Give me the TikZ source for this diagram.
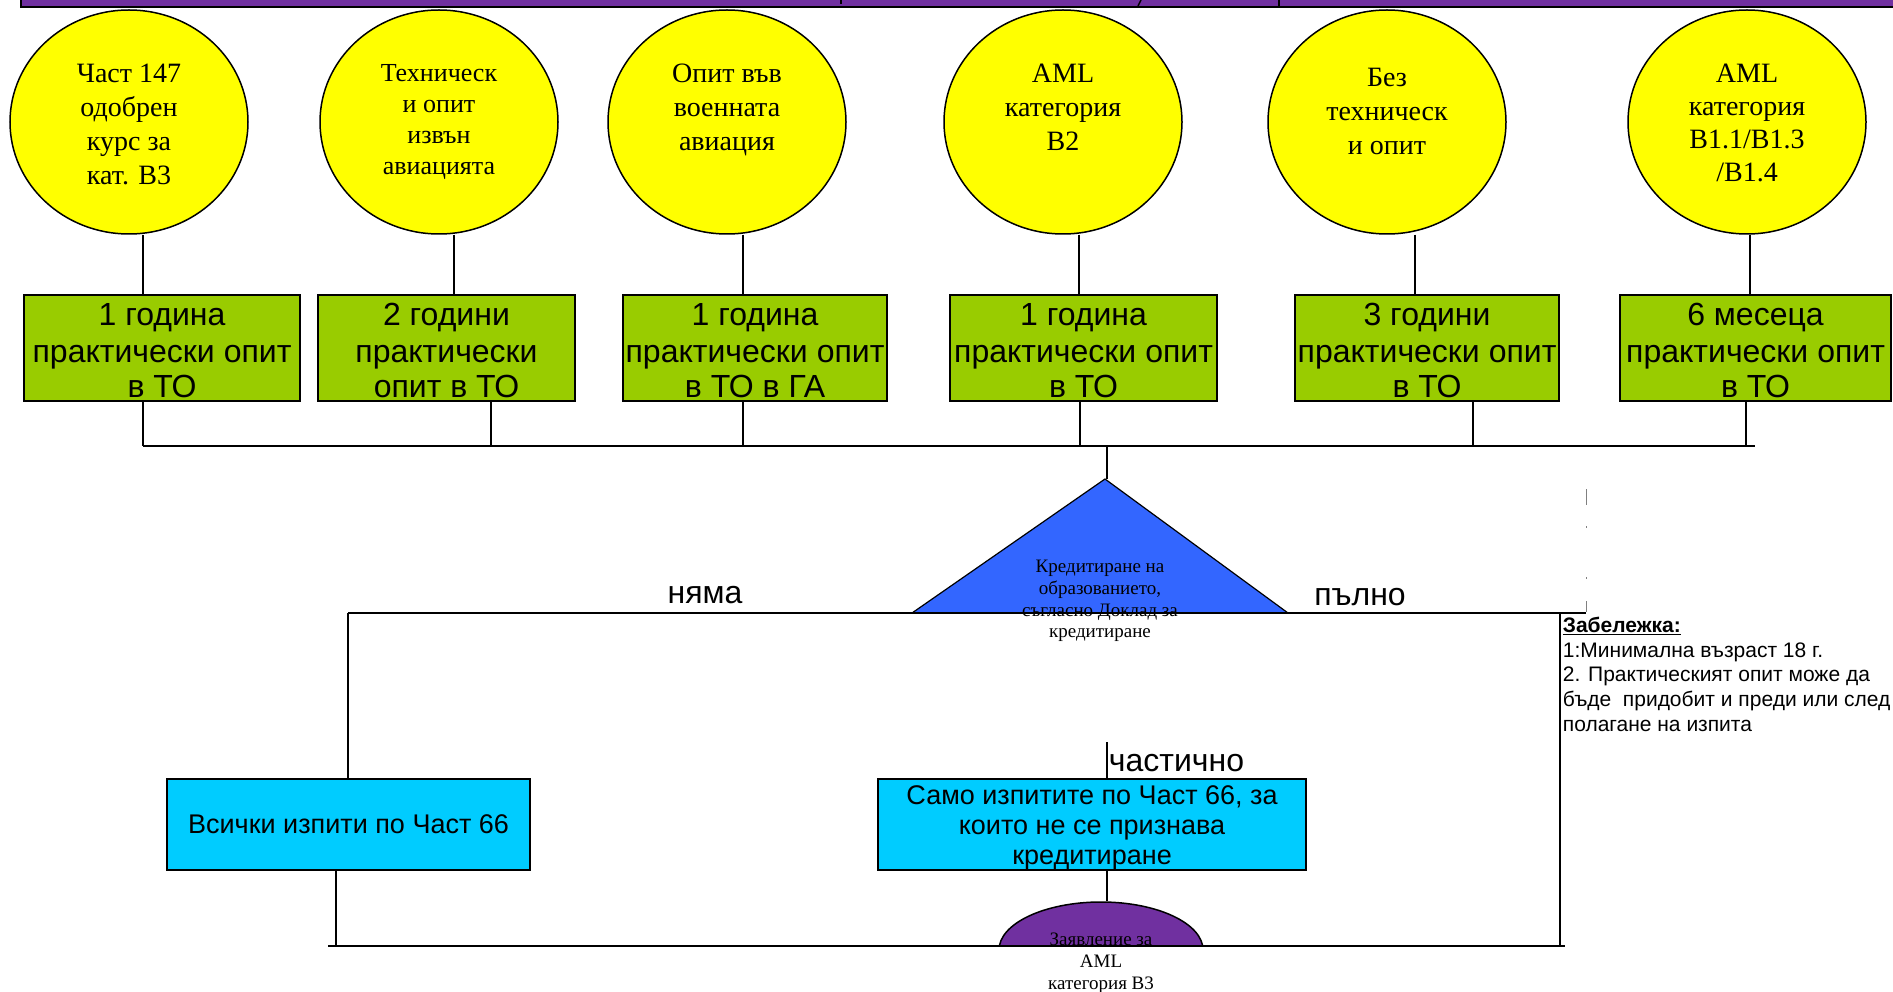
\documentclass[tikz,border=0pt]{standalone}
\usepackage{fontspec}
\setmainfont{Liberation Serif}
\setsansfont{Liberation Sans}
\usepackage{tikz}
\usetikzlibrary{shapes.geometric,positioning}
\definecolor{barpurple}{HTML}{7030A0}
\definecolor{bubbleyellow}{HTML}{FFFF00}
\definecolor{termgreen}{HTML}{99CC00}
\definecolor{examcyan}{HTML}{00CCFF}
\definecolor{credblue}{HTML}{3366FF}
\newcommand{\bubbletxt}[3]{\parbox[c][116pt][t]{160pt}{\centering\fontsize{#1}{#2}\selectfont #3}}
\newcommand{\boxtxt}[2]{\raisebox{#1}[0pt][0pt]{\begin{tabular}[t]{@{}c@{}}#2\end{tabular}}}

\begin{document}
\begin{tikzpicture}[x=1pt,y=-1pt,line width=1.8pt,
  bubble/.style={ellipse,draw,fill=bubbleyellow,line width=1.5pt,inner sep=0pt,minimum width=238pt,minimum height=224pt},
  term/.style={rectangle,draw,fill=termgreen,line width=2pt,inner sep=0pt,minimum height=106pt,font=\sffamily\fontsize{32}{36}\selectfont},
  exam/.style={rectangle,draw,fill=examcyan,line width=2pt,inner sep=0pt,minimum height=91pt,font=\sffamily\fontsize{27}{30}\selectfont},
  lbl/.style={inner sep=1pt,font=\sffamily\fontsize{32}{36}\selectfont},
  small/.style={inner sep=0pt,align=center,font=\fontsize{19}{21.7}\selectfont}]
\useasboundingbox (0,0) rectangle (1893,992);
% title bar
\fill[barpurple,draw=black,line width=2pt] (21,-30) rectangle (1920,7);
\draw[line width=2pt] (841,0) -- (841,4) (1279,0) -- (1279,6);
\draw[line width=1.5pt] (1138,6) -- (1141,0);
% starting points
\node[bubble] (c1) at (129,122) {\bubbletxt{28}{34}{Част 147\\одобрен\\курс за\\кат. B3}};
\node[bubble] (c2) at (439,122) {\bubbletxt{26}{31}{Техническ\\и опит\\извън\\авиацията}};
\node[bubble] (c3) at (727,122) {\bubbletxt{28}{34}{Опит във\\военната\\авиация}};
\node[bubble] (c4) at (1063,122) {\bubbletxt{28}{34}{AML\\категория\\B2}};
\node[bubble] (c5) at (1387,122) {\bubbletxt{28}{34}{\rule{0pt}{23pt}Без\\техническ\\и опит}};
\node[bubble] (c6) at (1747,122) {\bubbletxt{28}{33}{AML\\категория\\B1.1/B1.3\\/B1.4}};
% experience
\node[term,minimum width=276pt] (g1) at (162,348) {\boxtxt{22pt}{1 година\\практически опит\\в ТО}};
\node[term,minimum width=257pt] (g2) at (446.5,348) {\boxtxt{22pt}{2 години\\практически\\опит в ТО}};
\node[term,minimum width=264pt] (g3) at (755,348) {\boxtxt{22pt}{1 година\\практически опит\\в ТО в ГА}};
\node[term,minimum width=267pt] (g4) at (1083.5,348) {\boxtxt{22pt}{1 година\\практически опит\\в ТО}};
\node[term,minimum width=264pt] (g5) at (1427,348) {\boxtxt{22pt}{3 години\\практически опит\\в ТО}};
\node[term,minimum width=271pt] (g6) at (1755.5,348) {\boxtxt{22pt}{6 месеца\\практически опит\\в ТО}};
\coordinate (busL) at (143,446);
\coordinate (busR) at (1755,446);
\foreach \i/\u/\d in {1/14/-19,2/15/44.5,3/16/-12,4/16/-3.5,5/28/46,6/3/-9.5}{
  \draw ([xshift=\u pt]c\i.south) -- ([xshift=\u pt]c\i.south |- g\i.north);
  \draw ([xshift=\d pt]g\i.south) -- ([xshift=\d pt]g\i.south |- busL);
}
\draw (busL) -- (busR);
% crediting
\coordinate (apex) at (1105,479);
\coordinate (credL) at (912,613);
\coordinate (credR) at (1288,613);
\fill[credblue,draw=black,line width=1.2pt] (credL) -- (apex) -- (credR) -- cycle;
\draw ([xshift=2pt]apex |- busL) -- ([xshift=2pt]apex);
\node[small] (cred) at (1100,601) {Кредитиране на\\образованието,\\съгласно Доклад за\\кредитиране};
\node[lbl] (none) at (705,595) {няма};
\node[lbl] (full) at (1360,597) {пълно};
% exams
\node[exam,minimum width=363pt] (all66) at (348.5,824.5) {Всички изпити по Част 66};
\node[exam,minimum width=428pt] (part66) at (1092,824.5) {\boxtxt{20pt}{Само изпитите по Част 66, за\\които не се признава\\кредитиране}};
\coordinate (partT) at (1107,742);
\node[lbl,anchor=west] (partial) at (partT |- 0,763) {частично};
\begin{scope}
\clip (880,880) rectangle (1320,946);
\node[ellipse,draw,fill=barpurple,line width=1.5pt,minimum width=204pt,minimum height=96pt] (appl) at (1101,950) {};
\end{scope}
\node[small,font=\fontsize{19}{22}\selectfont] (appltxt) at (1101,963) {Заявление за\\AML\\категория B3};
% lines
\coordinate (mainL) at (348,613);
\coordinate (mainR) at (1586,613);
\coordinate (gapT) at (1586,489);
\coordinate (botL) at (328,946);
\coordinate (botR) at (1565,946);
\draw (mainL) -- (mainR);
\draw (mainL) -- (mainL |- all66.north);
\draw ([xshift=-12.5pt]all66.south) -- ([xshift=-12.5pt]all66.south |- botL);
\draw (partT) -- (partT |- part66.north);
\draw (partT |- part66.south) -- (partT |- appl.north);
\draw (1560,613) coordinate (noteV) -- (noteV |- botL);
\draw (botL) -- (botR);
\draw[gray,line width=1pt,dash pattern=on 16pt off 21pt on 1.5pt off 49.5pt on 1.5pt off 22.5pt on 11pt] (gapT) -- (mainR);
% note
\node[anchor=north west,inner sep=0pt,align=left,font=\sffamily\fontsize{21}{24.7}\selectfont] (remark) at (1562,616) {\underline{\textbf{Забележка:}}\\1:Минимална възраст 18 г.\\2. Практическият опит може да\\бъде\ \ придобит и преди или след\\полагане на изпита};
\end{tikzpicture}
\end{document}
